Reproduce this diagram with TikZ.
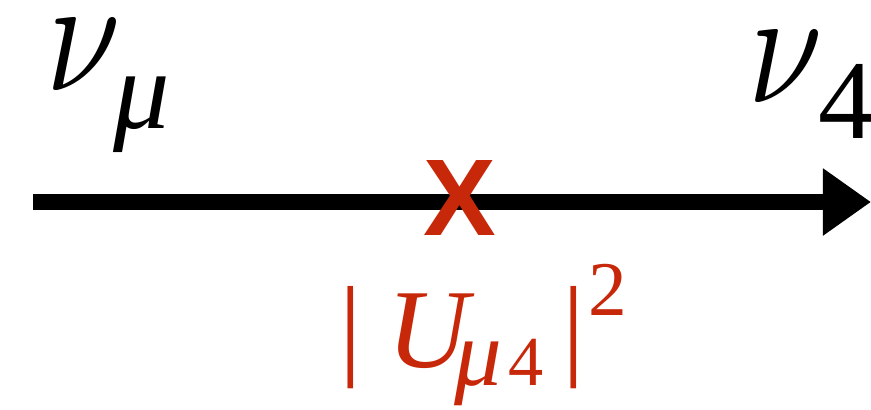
\documentclass[tikz,border=0pt]{standalone}
\usepackage{fontspec}
\setmainfont{Liberation Serif}
\newfontfamily\crossfont{Liberation Sans}
\usetikzlibrary{arrows.meta}
\definecolor{mixred}{RGB}{200,40,10}
\newdimen\pxu \pxu=0.01cm
\newcommand\glyphat[3]{\rlap{\kern#1\pxu\raisebox{#2\pxu}{#3}}}
\newcommand\fs[1]{\fontsize{#1}{#1}\selectfont}
\newcommand\bignu{\scalebox{3.8}[4.7]{$\nu$}}

\begin{document}
\begin{tikzpicture}[x=0.01cm, y=-0.01cm,
  lbl/.style={anchor=base west, inner sep=0pt},
  beam/.style={line width=4.6pt, -{Triangle[length=0.48cm, width=0.64cm]}}]
\useasboundingbox (0,0) rectangle (871,409);
% the beam line
\coordinate (src) at (33,202);
\coordinate (dst) at (871,202);
\draw[beam] (src) -- (dst);
% flavour states
\node[lbl] (numu) at (44,90) {\glyphat{0}{0}{\bignu}\glyphat{67}{-38}{\itshape\fs{32}μ}};
\node[lbl] (nufour) at (746,102) {\glyphat{0}{0}{\bignu}\glyphat{70}{-36}{\fs{32}4}};
% mixing point
\node[inner sep=0pt, text=mixred] (cross) at (460,198) {\crossfont\bfseries\fs{31}X};
\node[lbl, text=mixred] (mixing) at (345,367) {\fs{32}%
  \glyphat{-8}{3}{|}%
  \glyphat{40}{0}{\itshape U}%
  \glyphat{107}{-18}{\itshape\fs{27}μ}%
  \glyphat{161}{-18}{\fs{20}4}%
  \glyphat{215}{3}{|}%
  \glyphat{241}{52}{\fs{22}2}};
\end{tikzpicture}
\end{document}
